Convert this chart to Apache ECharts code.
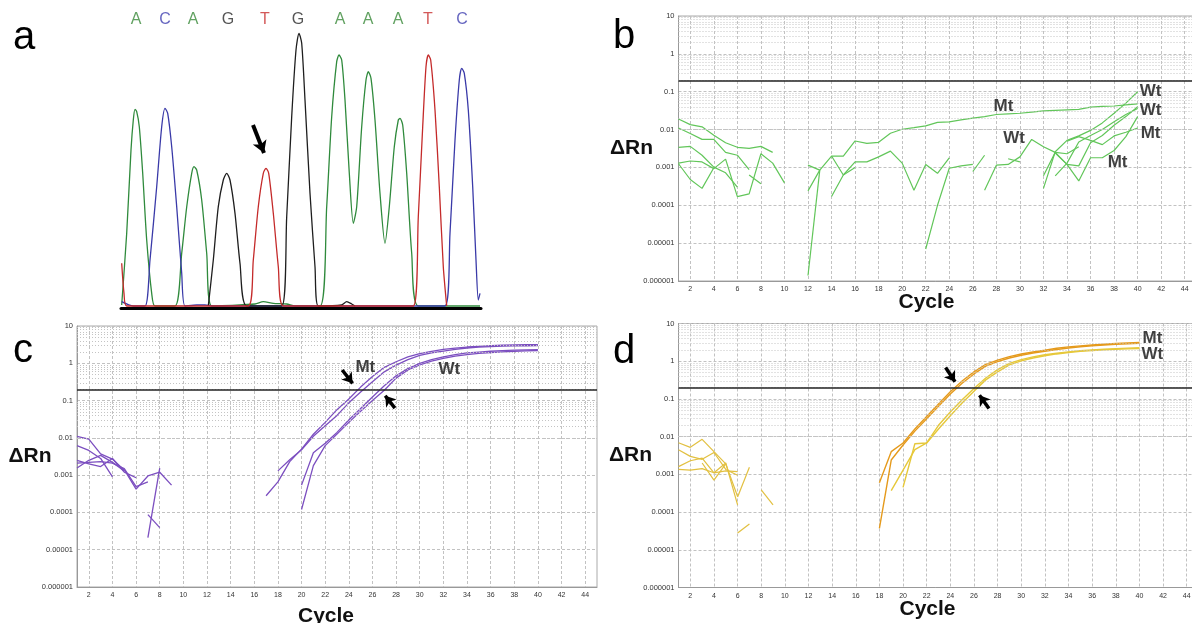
<!DOCTYPE html>
<html><head><meta charset="utf-8">
<script src="https://cdn.jsdelivr.net/npm/echarts@6/dist/echarts.min.js"></script>
<style>html,body{margin:0;padding:0;background:#fff}#c{width:1192px;height:623px}</style>
</head><body><div id="c"></div>
<script>
// ---------- Panel a: sequencing chromatogram (x = trace position, y = signal) ----------
const baseLetters = ['A','C','A','G','T','G','A','A','A','T','C'];
const baseLetterPos = [15,44,72,107,144,177,219,247,277,307,341];
const chromGreenA = [[0.7,3],[5.7,74.7],[10,158],[12.3,188],[14,198.7],[15.7,196.3],[18.3,181.3],[21.7,134.7],[25.7,68],[30.7,14.7],[34,2],[54,2],[60.7,54.7],[65.7,101],[70.7,134.7],[73,141.3],[75.7,138],[80.7,108],[85.7,54.7],[90.7,2],[134,4],[142.3,6.3],[152.3,4.7],[165.7,4],[174,2],[199,2],[205.7,101.3],[210.7,191.3],[215.7,246.3],[218,253],[220.7,248],[224,208],[228.3,134.7],[232.3,84.7],[235.7,101.3],[240.7,181.3],[245,228],[247.3,236.3],[250,229.7],[254,188],[259,114.7],[264,64.7],[268.3,101.3],[273.3,161.3],[277.3,188],[279,189.7],[281.7,183],[285.7,134.7],[290.7,54.7],[297.3,2],[359,2]];
const chromBlueC = [[0.7,6.3],[12.3,2],[24,2],[29,48],[35.7,121.3],[40.7,181.3],[44,199.7],[46.7,194.7],[50.7,161.3],[55.7,101.3],[60.7,34.7],[64,2],[75.7,3],[84,3],[92,2],[324,2],[329,74.7],[334,168],[338.3,228],[340.7,239.7],[343.3,234.7],[347.3,198],[351.7,121.3],[355,48],[357.3,8],[359,14.7]];
const chromBlackG = [[87.3,2],[92.3,48],[97.3,101.3],[102.3,128],[105.7,134.7],[109,128],[114,94.7],[119,44.7],[125.7,2],[160.7,2],[165.7,91.3],[170.7,191.3],[175,258],[178,274.7],[180.7,264.7],[184,208],[189,114.7],[194,41.3],[197.3,2],[220.7,3],[225.7,6.3],[230.7,4],[234,2]];
const chromRedT = [[0.7,44.7],[3,14.7],[5.7,2],[127.3,2],[132.3,48],[137.3,101.3],[142.3,134.7],[145,139.7],[147.7,134.7],[152.3,94.7],[157.3,41.3],[162.3,2],[292.3,2],[297.3,91.3],[301.7,181.3],[305,241.3],[307.3,253],[309.7,248],[314,198],[318.3,121.3],[322.3,41.3],[325.7,2]];
const chromArrow = [[132,183],[143,155]];

// ---------- qPCR axes ----------
const xTickLabels = [2,4,6,8,10,12,14,16,18,20,22,24,26,28,30,32,34,36,38,40,42,44];
const yTickLabels = ['0.000001','0.00001','0.0001','0.001','0.01','0.1','1','10'];
const thresholdValue = 0.2;

// ---------- Panel b traces: [start cycle, values] ----------
const panelBTraces = [
 [1,[0.019,0.0135,0.0118,0.0071,0.0045,0.0034,0.0032,0.0036,0.0025]],
 [1,[0.011,0.0079,0.0055,0.0055,0.0025,0.0021,0.00087]],
 [1,[0.0034,0.0036,0.0021,0.00102,0.00072,0.0003]],
 [1,[0.0013,0.00148,0.0014,0.00093,0.00166,0.00017,0.0002,0.0023,0.0013,0.00039]],
 [1,[0.00125,0.00048,0.00028,0.00098]],
 [7,[0.00063,0.00037]],
 [12,[0.00024,0.00085,0.002,0.002,0.005,0.0043,0.0046,0.008,0.0102,0.0112,0.0125,0.0155,0.016,0.018,0.02,0.022,0.025,0.026,0.027,0.029,0.031,0.032,0.033,0.034,0.039,0.041,0.042,0.045,0.048]],
 [12,[0.00115,0.00085]],
 [12,[0.0000014,0.00085]],
 [14,[0.00017,0.00063,0.001]],
 [14,[0.002,0.00063,0.0014,0.0014,0.0019,0.0027,0.0013,0.00025,0.0012,0.0007,0.0018]],
 [22,[0.000007,0.0001,0.00095,0.0011,0.0012]],
 [26,[0.00078,0.0021]],
 [27,[0.00025,0.00115,0.0012,0.0019,0.0055,0.0035,0.0025,0.0023,0.0035]],
 [29,[0.0017,0.0014]],
 [32,[0.00028,0.0026,0.0052,0.0068,0.0095,0.015,0.027,0.05,0.1]],
 [32,[0.0006,0.0025,0.0012,0.0011,0.0045,0.007,0.013,0.022,0.04]],
 [33,[0.0006,0.0013,0.0047,0.007,0.01,0.016,0.025,0.036]],
 [33,[0.0024,0.0012,0.00044,0.0018,0.0018,0.0028,0.0065,0.022]],
 [34,[0.0049,0.0065,0.0052,0.004,0.0068,0.0085,0.011]]
];
const panelBNotes = [['Mt',28.6,0.042],['Wt',41.1,0.105],['Wt',41.1,0.033],['Mt',41.1,0.0079],['Wt',29.5,0.0059],['Mt',38.3,0.0014]];

// ---------- Panel c traces ----------
const panelCTraces = [
 [1,[0.011,0.0093,0.0037,0.0027,0.00135]],
 [1,[0.0062,0.0046,0.0028,0.0009]],
 [1,[0.00155,0.0025,0.0034,0.0022,0.0013]],
 [1,[0.0025,0.002,0.0017,0.0028,0.0012,0.00085]],
 [1,[0.0021,0.0022,0.0023,0.0021,0.0015,0.00049,0.00066]],
 [5,[0.0014,0.00042,0.00095,0.0012,0.00054]],
 [7,[0.000021,0.00155]],
 [7,[0.000087,0.000039]],
 [17,[0.00028,0.00066,0.0023,0.005,0.0125,0.026,0.057,0.11,0.23,0.44,0.78,1.1,1.48,1.82,2.1,2.36,2.55,2.73,2.85,2.95,3.05,3.12,3.15,3.15]],
 [18,[0.0013,0.0026,0.0048,0.011,0.021,0.04,0.087,0.17,0.32,0.59,0.89,1.26,1.62,1.9,2.13,2.35,2.57,2.7,2.8,2.87,2.92,2.95,2.97]],
 [20,[0.00012,0.0018,0.0062,0.0126,0.026,0.052,0.1,0.19,0.4,0.66,0.9,1.15,1.35,1.55,1.7,1.84,1.94,2.03,2.1,2.16,2.2]],
 [20,[0.00054,0.004,0.0072,0.014,0.03,0.061,0.125,0.25,0.46,0.72,1.0,1.25,1.48,1.7,1.9,2.0,2.1,2.18,2.25,2.3,2.33]]
];
const panelCNotes = [['Mt',25.4,0.8],['Wt',32.5,0.68]];
const panelCArrows = [[[23.44,0.66],[24.32,0.29]],[[27.9,0.063],[27.08,0.135]]];

// ---------- Panel d traces ----------
const panelDNoise = [
 [1,[0.0069,0.0052,0.0085,0.004,0.0019,0.00026]],
 [1,[0.0045,0.003,0.0025,0.0038,0.00135,0.00095]],
 [1,[0.0016,0.0023,0.0027,0.0011,0.00123,0.00118]],
 [1,[0.00135,0.0013,0.00142,0.0011,0.002,0.000155]],
 [3,[0.002,0.0007,0.0019]],
 [6,[0.000028,0.000048]],
 [6,[0.00025,0.00155]],
 [8,[0.00039,0.000155]]
];
const panelDMt = [
 [18,[0.0006,0.004,0.0068,0.016,0.034,0.073,0.155,0.3,0.52,0.82,1.07,1.32,1.55,1.76,1.95,2.2,2.4,2.55,2.7,2.82,2.95,3.05,3.15]],
 [18,[0.000037,0.0024,0.006,0.014,0.03,0.064,0.135,0.26,0.46,0.74,0.98,1.22,1.44,1.65,1.84,2.05,2.25,2.42,2.57,2.7,2.82,2.9,2.98]]
];
const panelDWt = [
 [19,[0.00037,0.0013,0.0045,0.0068,0.016,0.036,0.078,0.16,0.32,0.52,0.8,1.02,1.22,1.4,1.56,1.7,1.82,1.92,2.0,2.07,2.13,2.18]],
 [20,[0.00045,0.0065,0.0068,0.02,0.045,0.095,0.19,0.36,0.6,0.88,1.1,1.3,1.48,1.63,1.77,1.9,2.0,2.08,2.16,2.22,2.27]]
];
const panelDNotes = [['Mt',41.1,4.0],['Wt',41.1,1.5]];
const panelDArrows = [[[23.6,0.68],[24.4,0.285]],[[27.27,0.056],[26.47,0.126]]];

// ---------- build ----------
const FONT = '"Liberation Sans", Arial, sans-serif';
const minorLogValues = [];
for (let e = -6; e <= 0; e++) for (let m = 2; m <= 9; m++) minorLogValues.push(+(m * Math.pow(10, e)).toPrecision(3));

const grids = [
  {left:121, top:18, width:360, height:290, outerBoundsMode:'none', containLabel:false},
  {left:678.5, top:16, width:518, height:265, show:true, borderColor:'#aaa', borderWidth:1, outerBoundsMode:'none', containLabel:false},
  {left:77, top:326, width:520, height:261, show:true, borderColor:'#aaa', borderWidth:1, outerBoundsMode:'none', containLabel:false},
  {left:678.5, top:323.5, width:520, height:264, show:true, borderColor:'#aaa', borderWidth:1, outerBoundsMode:'none', containLabel:false}
];
const xAxes = [{gridIndex:0, type:'value', min:0, max:360, axisLine:{show:true, onZero:false, lineStyle:{color:'#000', width:3}}, axisTick:{show:false}, axisLabel:{show:false}, splitLine:{show:false}}];
const yAxes = [{gridIndex:0, type:'value', min:0, max:290, show:false}];
const nameGapsX = {1:21, 2:29, 3:22};
const nameGapsY = {1:47, 2:47, 3:48};
function addQAxes(gi){
  xAxes.push({gridIndex:gi, type:'value', min:1, max:45, interval:1,
    name:'Cycle', nameLocation:'middle', nameGap:nameGapsX[gi], nameMoveOverlap:false,
    nameTextStyle:{fontFamily:FONT, fontSize:21, fontWeight:'bold', color:'#111', align:'center', verticalAlign:'middle', padding:[0,22,0,0]},
    axisLine:{show:true, onZero:false, lineStyle:{color:'#999', width:1}}, axisTick:{show:false},
    axisLabel:{fontFamily:FONT, fontSize:7, color:'#333', margin:5, formatter:v=> xTickLabels.indexOf(v) >= 0 ? String(v) : ''},
    splitLine:{show:true, lineStyle:{color:['rgba(0,0,0,0)','#c2c2c2'], type:[3,2], width:1}}});
  yAxes.push({gridIndex:gi, type:'log', logBase:10, min:0.000001, max:10, splitNumber:7,
    name:'\u0394Rn', nameLocation:'middle', nameRotate:0, nameGap:nameGapsY[gi], nameMoveOverlap:false,
    nameTextStyle:{fontFamily:FONT, fontSize:21, fontWeight:'bold', color:'#111', align:'center', verticalAlign:'middle'},
    axisLine:{show:true, lineStyle:{color:'#999', width:1}}, axisTick:{show:false},
    axisLabel:{fontFamily:FONT, fontSize:7.5, color:'#333', margin:4, formatter:v=>{const e=Math.round(Math.log10(v)); return yTickLabels[e+6] || '';}},
    splitLine:{show:true, lineStyle:{color:'#c2c2c2', type:[3,2], width:1}}});
}
addQAxes(1); addQAxes(2); addQAxes(3);

const series = [];
function lineSeries(gi, data, color, width, extra){
  return Object.assign({type:'line', xAxisIndex:gi, yAxisIndex:gi, data:data, showSymbol:false, symbol:'none',
    lineStyle:{color:color, width:width}, z:3, silent:true, animation:false}, extra||{});
}
// panel a traces
[[chromGreenA,'#2f8a3c'],[chromBlueC,'#3a3aa8'],[chromBlackG,'#1e1e1e'],[chromRedT,'#c42a2a']].forEach(([d,c])=>{
  series.push(lineSeries(0, d, c, 1.3, {smooth:0.25}));
});
const letterColors = {A:'#3a8a3a', C:'#4040b0', G:'#2a2a2a', T:'#c83030'};
series.push({type:'scatter', xAxisIndex:0, yAxisIndex:0, symbolSize:0, silent:true, z:5,
  data: baseLetters.map((L,i)=>({value:[baseLetterPos[i],288], label:{show:true, position:'inside', formatter:L, color:letterColors[L], fontFamily:FONT, fontSize:16}}))});
series.push({type:'line', xAxisIndex:0, yAxisIndex:0, data:[], z:6, silent:true,
  markLine:{silent:true, animation:false, symbol:['none','arrow'], symbolSize:[11,12], label:{show:false},
    lineStyle:{color:'#000', width:4, type:'solid'},
    data:[[{coord:chromArrow[0]},{coord:chromArrow[1]}]]}});

// grid overlays for qPCR panels
function addGridDecor(gi, notes, arrows){
  series.push({type:'line', xAxisIndex:gi, yAxisIndex:gi, data:[], z:1, silent:true,
    markLine:{silent:true, animation:false, symbol:'none', label:{show:false},
      lineStyle:{color:'#c4c4c4', type:[1,2], width:1},
      data: minorLogValues.map(v=>({yAxis:v}))}});
  series.push({type:'line', xAxisIndex:gi, yAxisIndex:gi, data:[], z:4, silent:true,
    markLine:{silent:true, animation:false, symbol:'none', label:{show:false},
      lineStyle:{color:'#222', type:'solid', width:1.6},
      data:[{yAxis:thresholdValue}]}});
  series.push({type:'scatter', xAxisIndex:gi, yAxisIndex:gi, symbolSize:0, silent:true, z:6,
    data: notes.map(n=>({value:[n[1],n[2]], label:{show:true, position:'inside', formatter:n[0], color:'#111', fontFamily:FONT, fontSize:17, fontWeight:'bold'}}))});
  if (arrows) series.push({type:'line', xAxisIndex:gi, yAxisIndex:gi, data:[], z:6, silent:true,
    markLine:{silent:true, animation:false, symbol:['none','arrow'], symbolSize:[10,10], label:{show:false},
      lineStyle:{color:'#000', width:3.5, type:'solid'},
      data: arrows.map(a=>[{coord:a[0]},{coord:a[1]}])}});
}
function toPairs(tr){ return tr[1].map((v,i)=>[tr[0]+i, v]); }

panelBTraces.forEach(tr=>series.push(lineSeries(1, toPairs(tr), '#62c65a', 1.2)));
addGridDecor(1, panelBNotes, null);
panelCTraces.forEach(tr=>series.push(lineSeries(2, toPairs(tr), '#7c4fc0', 1.3)));
addGridDecor(2, panelCNotes, panelCArrows);
panelDNoise.forEach(tr=>series.push(lineSeries(3, toPairs(tr), '#e2c040', 1.2)));
panelDWt.forEach(tr=>series.push(lineSeries(3, toPairs(tr), '#e6c83a', 1.4)));
panelDMt.forEach(tr=>series.push(lineSeries(3, toPairs(tr), '#e59a1c', 1.4)));
addGridDecor(3, panelDNotes, panelDArrows);

const panelLetters = [['a',13,38],['b',613,37],['c',13,351],['d',613,352]];
const chart = echarts.init(document.getElementById('c'), null, {renderer:'canvas'});
chart.setOption({
  animation:false, backgroundColor:'#fff',
  grid:grids, xAxis:xAxes, yAxis:yAxes, series:series,
  graphic: panelLetters.map(p=>({type:'text', x:p[1], y:p[2], silent:true,
    style:{text:p[0], fontFamily:FONT, fontSize:40, fill:'#000', verticalAlign:'middle', align:'left'}}))
});
</script></body></html>
